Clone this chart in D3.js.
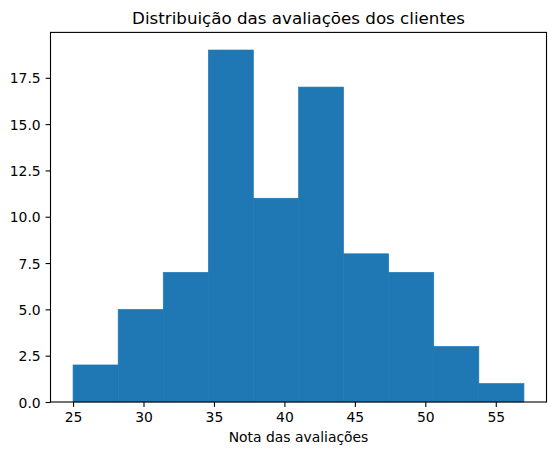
<!DOCTYPE html>
<html><head><meta charset="utf-8">
<script src="https://cdn.jsdelivr.net/npm/d3@7"></script>
<style>body{margin:0;background:#fff}text{font-family:"DejaVu Sans",sans-serif;fill:#000}</style>
</head><body><svg id="c" width="556" height="455"></svg>
<script>
const binEdges = [25, 28.2, 31.4, 34.6, 37.8, 41, 44.2, 47.4, 50.6, 53.8, 57];
const counts = [2, 5, 7, 19, 11, 17, 8, 7, 3, 1];
const xTicks = [25, 30, 35, 40, 45, 50, 55];
const yTicks = [0, 2.5, 5, 7.5, 10, 12.5, 15, 17.5];
const title = "Distribuição das avaliações dos clientes";
const xLabel = "Nota das avaliações";

const L = 50.5, R = 546.5, T = 32.4, B = 402;
const svg = d3.select("#c");
const xr = binEdges[binEdges.length-1] - binEdges[0];
const x = d3.scaleLinear().domain([binEdges[0] - 0.05*xr, binEdges[binEdges.length-1] + 0.05*xr]).range([L, R]);
const ymax = d3.max(counts) * 1.05;
const y = d3.scaleLinear().domain([0, ymax]).range([B, T]);

const bins = counts.map((c, i) => ({x0: binEdges[i], x1: binEdges[i+1], c}));
svg.append("g").selectAll("rect").data(bins).join("rect")
  .attr("x", d => x(d.x0)).attr("width", d => x(d.x1) - x(d.x0))
  .attr("y", d => y(d.c)).attr("height", d => y(0) - y(d.c))
  .attr("fill", "#1f77b4").attr("stroke", "#1f77b4").attr("stroke-width", 0.6);

const xAxis = svg.append("g").attr("transform", `translate(0,${B})`)
  .call(d3.axisBottom(x).tickValues(xTicks).tickSize(4.9).tickPadding(4.9).tickFormat(d3.format("d")));
const yAxis = svg.append("g").attr("transform", `translate(${L},0)`)
  .call(d3.axisLeft(y).tickValues(yTicks).tickSize(4.9).tickPadding(4.9).tickFormat(d3.format(".1f")));
[xAxis, yAxis].forEach(a => {
  a.select(".domain").remove();
  a.selectAll("line").attr("stroke", "#000").attr("stroke-width", 1.1);
  a.selectAll("text").attr("font-size", "13.9px").attr("font-family", "DejaVu Sans").attr("fill", "#000");
});
xAxis.selectAll("text").attr("dy", "0.76em");
yAxis.selectAll("text").attr("dy", "0.36em");

svg.append("rect").attr("x", L).attr("y", T).attr("width", R-L).attr("height", B-T)
  .attr("fill", "none").attr("stroke", "#000").attr("stroke-width", 1.1);

svg.append("text").attr("x", (L+R)/2).attr("y", 24).attr("text-anchor", "middle")
  .attr("font-size", "16.7px").text(title);
svg.append("text").attr("x", (L+R)/2).attr("y", 441.5).attr("text-anchor", "middle")
  .attr("font-size", "13.9px").text(xLabel);
</script></body></html>
